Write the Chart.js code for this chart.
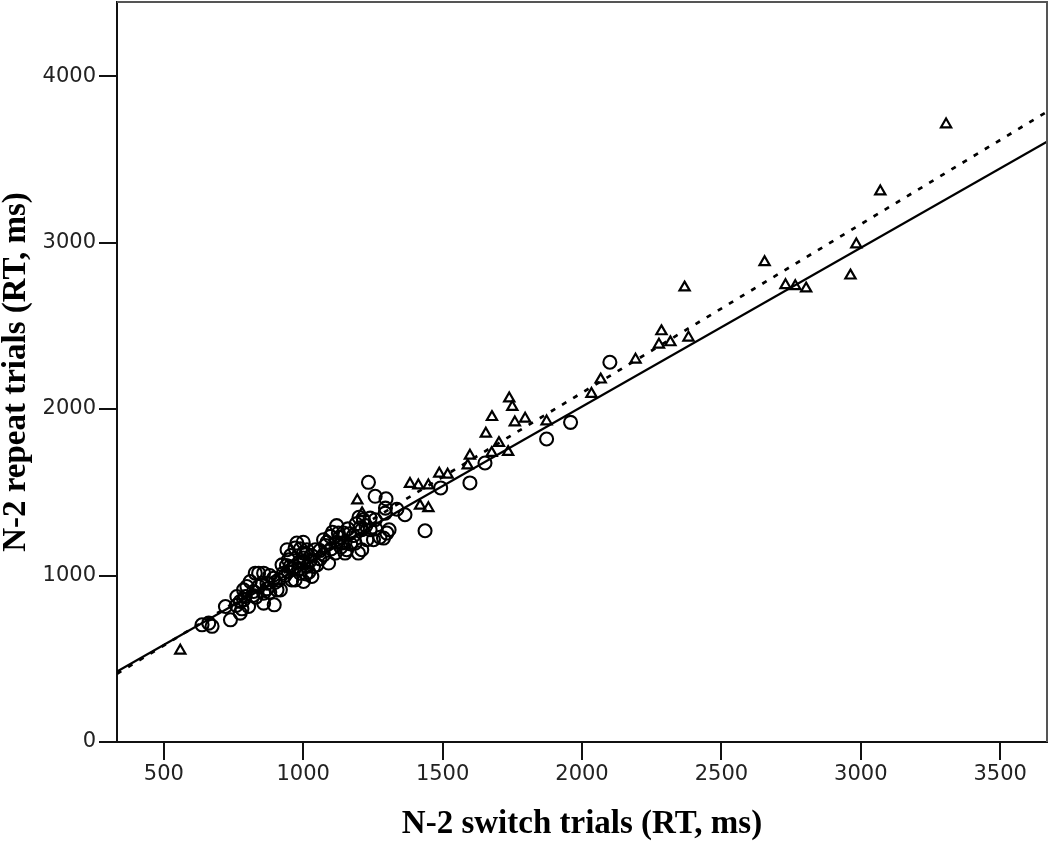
<!DOCTYPE html>
<html>
<head>
<meta charset="utf-8">
<script src="https://cdn.jsdelivr.net/npm/chart.js@4.4.1/dist/chart.umd.min.js"></script>
<style>
  html, body { margin: 0; padding: 0; background: #fff; }
  #wrap { width: 1050px; height: 842px; position: relative; }
</style>
</head>
<body>
<div id="wrap"><canvas id="scatterChart"></canvas></div>
<script>
// Ejes y marcas
const xTicks = [500, 1000, 1500, 2000, 2500, 3000, 3500];
const yTicks = [0, 1000, 2000, 3000, 4000];
const xRange = [332, 3668];
const yRange = [0, 4445];

// Círculos (grupo 1)
const circleX = [2100, 1959, 1873, 1598, 1652, 1493, 1365, 1437, 1234, 1258, 1297, 1295, 1336, 1308, 1252, 1288, 1210, 1186, 1144, 1210,
  1156, 1258, 1204, 1240, 1216, 1294, 1300, 1228, 1198, 1150, 1139, 1126, 1097, 1073, 1115, 1073, 1091, 1043, 1037, 1001,
  977, 942, 953, 1001, 929, 971, 1001, 906, 947, 971, 1013, 989, 1031, 959, 924, 971, 1013, 1001, 1049, 947,
  637, 673, 661, 739, 721, 774, 804, 858, 896, 774, 792, 798, 840, 858, 894, 852, 822, 858, 762, 786,
  870, 840, 810, 786, 918, 912, 828, 1120, 1160, 1180, 1060, 1080, 1030, 985, 1010, 880, 830, 1120, 1170,
  935, 960, 985, 1010, 1025, 955, 990, 1020, 940, 1000, 1060, 1085, 1100, 1130, 1150, 1165, 1105, 1135, 1190, 1225,
  1260, 1275, 1200, 1240, 870, 900, 820, 880, 760, 780];
const circleY = [2281, 1920, 1820, 1556, 1676, 1526, 1365, 1269, 1560, 1476, 1461, 1405, 1398, 1275, 1215, 1225, 1275, 1195, 1255, 1155,
  1155, 1335, 1287, 1275, 1335, 1375, 1255, 1215, 1135, 1135, 1195, 1255, 1235, 1215, 1135, 1124, 1075, 1155, 1054, 1135,
  1195, 1155, 1054, 1075, 1014, 974, 964, 914, 1024, 1054, 1054, 1014, 994, 974, 1064, 1165, 1155, 1105, 1064, 1094,
  704, 695, 714, 734, 814, 774, 814, 834, 824, 844, 874, 934, 1014, 1014, 984, 954, 904, 894, 874, 854,
  954, 934, 964, 914, 914, 974, 1014, 1300, 1280, 1240, 1100, 1180, 1120, 1040, 1010, 900, 870, 1200, 1190,
  1000, 1040, 1080, 1130, 1090, 1120, 1160, 1020, 1060, 1200, 1150, 1200, 1160, 1230, 1200, 1250, 1260, 1170, 1310, 1300,
  1280, 1230, 1350, 1345, 920, 960, 880, 1000, 820, 800];

// Triángulos (grupo 2)
const triangleX = [3306, 3070, 2984, 2963, 2804, 2765, 2730, 2655, 2368, 2382, 2285, 2276, 2317, 2192, 2067, 2034, 1739, 1750, 1677, 1759,
  1796, 1873, 1655, 1702, 1735, 1598, 1590, 1676, 1518, 1488, 1383, 1413, 1449, 1419, 1449, 1194, 1211, 559];
const triangleY = [3710, 3307, 2989, 2802, 2724, 2738, 2744, 2882, 2730, 2429, 2467, 2387, 2401, 2297, 2177, 2091, 2064, 2013, 1952, 1920,
  1942, 1926, 1852, 1796, 1742, 1720, 1661, 1736, 1606, 1612, 1550, 1541, 1541, 1419, 1405, 1451, 1374, 549];

const solidFitX = [332, 3668];
const solidFitY = [423, 3606];
const dashedFitX = [332, 3668];
const dashedFitY = [410, 3786];

const toPoints = (xs, ys) => xs.map((x, i) => ({ x: x, y: ys[i] }));

// Marco completo alrededor del área del gráfico
const frameBox = {
  id: 'frameBox',
  afterDraw(chart) {
    const { ctx, chartArea: a } = chart;
    ctx.save();
    ctx.strokeStyle = '#555';
    ctx.lineWidth = 2;
    ctx.beginPath();
    ctx.moveTo(a.left, a.top);
    ctx.lineTo(a.right, a.top);
    ctx.lineTo(a.right, a.bottom);
    ctx.stroke();
    ctx.restore();
  }
};

const tickFont = { family: '"DejaVu Sans", Verdana, sans-serif', size: 21 };
const titleFont = { family: '"Liberation Serif", "Times New Roman", serif', size: 33, weight: 'bold', lineHeight: 1 };

new Chart(document.getElementById('scatterChart'), {
  type: 'scatter',
  data: {
    datasets: [
      {
        label: 'solid fit',
        data: toPoints(solidFitX, solidFitY),
        showLine: true,
        borderColor: '#000',
        borderWidth: 2.4,
        pointRadius: 0,
        order: 1
      },
      {
        label: 'dashed fit',
        data: toPoints(dashedFitX, dashedFitY),
        showLine: true,
        borderColor: '#000',
        borderWidth: 2.7,
        borderDash: [5, 8],
        pointRadius: 0,
        order: 2
      },
      {
        label: 'circles',
        data: toPoints(circleX, circleY),
        pointStyle: 'circle',
        pointRadius: 6.5,
        borderWidth: 2.1,
        borderColor: '#000',
        backgroundColor: 'rgba(0,0,0,0)',
        order: 3
      },
      {
        label: 'triangles',
        data: toPoints(triangleX, triangleY),
        pointStyle: 'triangle',
        pointRadius: 5.9,
        borderWidth: 2.2,
        borderColor: '#000',
        backgroundColor: 'rgba(0,0,0,0)',
        order: 4
      }
    ]
  },
  options: {
    responsive: true,
    maintainAspectRatio: false,
    animation: false,
    layout: { autoPadding: false, padding: { top: 2, right: 3, left: 0, bottom: 0 } },
    plugins: { legend: { display: false }, tooltip: { enabled: false } },
    scales: {
      x: {
        type: 'linear',
        min: xRange[0],
        max: xRange[1],
        afterBuildTicks: scale => { scale.ticks = xTicks.map(v => ({ value: v })); },
        afterFit: scale => { scale.height = 100; scale.paddingLeft = 0; scale.paddingRight = 0; },
        grid: { drawOnChartArea: false, tickLength: 18, color: '#111', lineWidth: 2 },
        border: { display: true, color: '#111', width: 2 },
        ticks: { font: tickFont, color: '#222', padding: 2, maxRotation: 0, callback: v => String(v) },
        title: { display: true, text: 'N-2 switch trials (RT, ms)', font: titleFont, color: '#000', padding: { top: 0, bottom: 1 } }
      },
      y: {
        type: 'linear',
        min: yRange[0],
        max: yRange[1],
        afterBuildTicks: scale => { scale.ticks = yTicks.map(v => ({ value: v })); },
        afterFit: scale => { scale.width = 117; scale.paddingTop = 0; scale.paddingBottom = 0; },
        grid: { drawOnChartArea: false, tickLength: 18, color: '#111', lineWidth: 2 },
        border: { display: true, color: '#111', width: 2 },
        ticks: { font: tickFont, color: '#222', padding: 3, callback: v => String(v) },
        title: { display: true, text: 'N-2 repeat trials (RT, ms)', font: titleFont, color: '#000', padding: { top: 0, bottom: 0 } }
      }
    }
  },
  plugins: [frameBox]
});
</script>
</body>
</html>
